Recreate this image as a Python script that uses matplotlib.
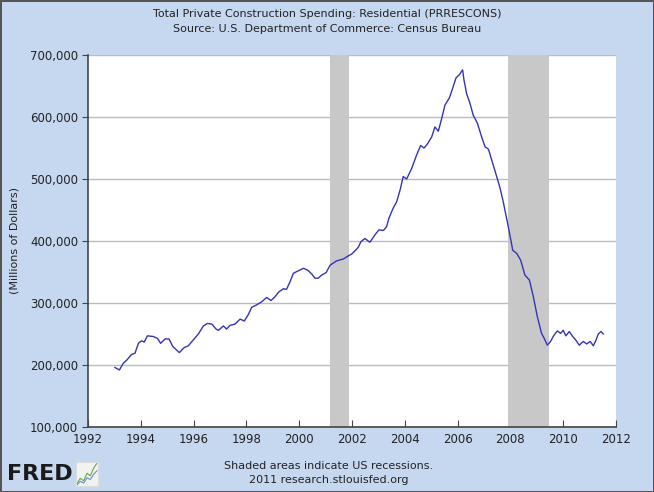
import matplotlib
matplotlib.use("Agg")
import matplotlib.pyplot as plt

# monthly-ish readings, value in millions of dollars (thousands shown)
years = [1993.02, 1993.19, 1993.34, 1993.47, 1993.65, 1993.78, 1993.91, 1994.03, 1994.13, 1994.25,
         1994.47, 1994.63, 1994.75, 1994.92, 1995.07, 1995.21, 1995.46, 1995.64, 1995.80, 1995.96,
         1996.18, 1996.37, 1996.52, 1996.69, 1996.85, 1996.94, 1997.13, 1997.25, 1997.38, 1997.57,
         1997.76, 1997.92, 1998.07, 1998.20, 1998.39, 1998.58, 1998.77, 1998.93, 1999.08, 1999.23,
         1999.40, 1999.52, 1999.65, 1999.78, 1999.97, 2000.16, 2000.32, 2000.47, 2000.60, 2000.72,
         2000.85, 2001.02, 2001.17, 2001.42, 2001.67, 2001.86, 2001.99, 2002.11, 2002.24, 2002.34,
         2002.49, 2002.68, 2002.87, 2003.02, 2003.19, 2003.31, 2003.40, 2003.56, 2003.69, 2003.82,
         2003.94, 2004.07, 2004.26, 2004.45, 2004.60, 2004.73, 2004.85, 2005.02, 2005.14, 2005.27,
         2005.40, 2005.52, 2005.69, 2005.81, 2005.94, 2006.06, 2006.19, 2006.24, 2006.34, 2006.47,
         2006.59, 2006.75, 2006.91, 2007.04, 2007.17, 2007.29, 2007.48, 2007.61, 2007.73, 2007.92,
         2008.09, 2008.24, 2008.39, 2008.55, 2008.72, 2008.87, 2009.02, 2009.18, 2009.28, 2009.40,
         2009.52, 2009.65, 2009.78, 2009.90, 2010.00, 2010.10, 2010.23, 2010.36, 2010.48, 2010.61,
         2010.76, 2010.89, 2011.02, 2011.14, 2011.24, 2011.33, 2011.43, 2011.52]
values_k = [196, 192, 203, 208, 217, 219, 235, 239, 237, 247,
            246, 243, 235, 242, 242, 230, 220, 228, 231, 239,
            250, 263, 267, 266, 258, 256, 263, 258, 264, 266,
            274, 271, 281, 293, 297, 302, 309, 304, 310, 318,
            323, 322, 334, 348, 352, 356, 353, 347, 340, 340,
            345, 349, 361, 368, 371, 376, 379, 384, 390, 399,
            404, 398, 410, 418, 417, 423, 437, 453, 463, 482,
            504, 500, 517, 539, 554, 550, 556, 568, 584, 577,
            598, 619, 631, 646, 663, 668, 676, 660, 638, 622,
            603, 590, 568, 552, 548, 531, 504, 485, 463, 423,
            385, 380, 369, 345, 337, 310, 278, 251, 243, 232,
            238, 248, 255, 251, 256, 247, 254, 246, 240, 232,
            238, 234, 238, 231, 240, 250, 254, 250]
values = [v * 1000 for v in values_k]

recessions = [(2001.17, 2001.89), (2007.92, 2009.46)]
xticks = list(range(1992, 2013, 2))
yticks = list(range(100000, 700001, 100000))

bg = "#c6d8ef"
fig = plt.figure(figsize=(6.54, 4.92), dpi=100, facecolor=bg)
fig.patch.set_edgecolor("#555555")
fig.patch.set_linewidth(2)

ax = fig.add_axes([88 / 654, 1 - 427 / 492, 528 / 654, 372 / 492])
ax.set_facecolor("white")
for s in ["top", "right"]:
    ax.spines[s].set_visible(False)
for s in ["left", "bottom"]:
    ax.spines[s].set_color("#444444")
    ax.spines[s].set_linewidth(1.2)

ax.set_xlim(1992, 2012)
ax.set_ylim(100000, 700000)
ax.set_xticks(xticks)
ax.set_yticks(yticks)
ax.set_yticklabels([f"{v:,}" for v in yticks])
ax.tick_params(axis="x", direction="in", length=5, color="#444444", labelsize=8.5,
               labelcolor="#222222", pad=4)
ax.tick_params(axis="y", direction="out", length=4, color="#444444", labelsize=8.5,
               labelcolor="#222222", pad=3)
ax.grid(axis="y", color="#bcbcbc", linewidth=1, zorder=1)
ax.set_axisbelow(True)

for a, b in recessions:
    ax.axvspan(a, b, color="#c8c8c8", lw=0, zorder=2)

ax.plot(years, values, color="#3434b8", linewidth=1, zorder=3)

ax.set_ylabel("(Millions of Dollars)", fontsize=8, color="#222222", labelpad=8)

fig.text(0.5, 1 - 14 / 492, "Total Private Construction Spending: Residential (PRRESCONS)",
         ha="center", va="center", fontsize=8, color="#222222")
fig.text(0.5, 1 - 29 / 492, "Source: U.S. Department of Commerce: Census Bureau",
         ha="center", va="center", fontsize=8, color="#222222")
fig.text(329 / 654, 1 - 466 / 492, "Shaded areas indicate US recessions.",
         ha="center", va="center", fontsize=8, color="#222222")
fig.text(329 / 654, 1 - 480 / 492, "2011 research.stlouisfed.org",
         ha="center", va="center", fontsize=8, color="#222222")

# FRED logo
fig.text(7 / 654, 1 - 474 / 492, "FRED", ha="left", va="center", fontsize=16,
         fontweight="heavy", color="#1a1a1a")
logo_x = [0, 1, 2, 3, 4, 5, 6]
logo_y = [1, 2, 1.5, 3, 2.5, 4, 5]
lax = fig.add_axes([76 / 654, 1 - 486 / 492, 22 / 654, 24 / 492])
lax.set_facecolor("#f2f2f2")
lax.plot(logo_x, logo_y, color="#6aa84f", lw=0.8)
lax.plot(logo_x, [v * 0.7 for v in logo_y], color="#6d8fc7", lw=0.8)
lax.set_xticks([])
lax.set_yticks([])
for s in lax.spines.values():
    s.set_color("#dddddd")

fig.savefig("out.png", dpi=100, facecolor=bg, edgecolor="#555555")
